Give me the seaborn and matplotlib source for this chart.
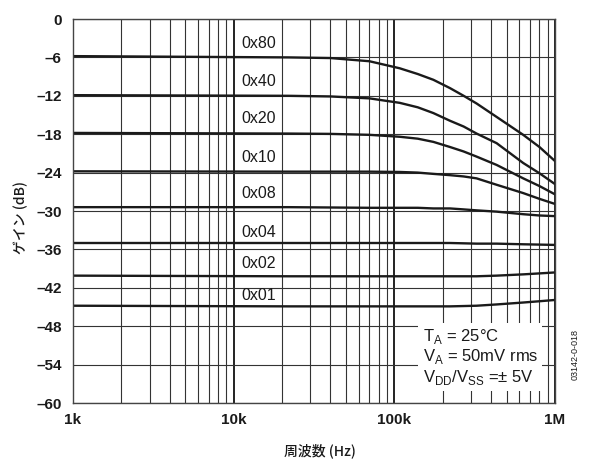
import matplotlib
matplotlib.use("Agg")
import matplotlib.pyplot as plt
import matplotlib.ticker as mticker
import numpy as np
import pandas as pd
import seaborn as sns

# Frequency points (Hz) shared by every gain-code curve
freq_hz = [1e3, 2.2e4, 4.0e4, 7.0e4, 1.08e5, 1.4e5, 1.75e5, 2.22e5,
           2.7e5, 3.25e5, 4.33e5, 6.34e5, 8.0e5, 1e6]

# Gain (dB) for each digital gain code
gain_0x80 = [-5.8, -6.0, -6.1, -6.6, -7.7, -8.6, -9.5, -10.8,
             -12.0, -13.2, -15.3, -18.1, -20.0, -22.2]
gain_0x40 = [-11.9, -12.0, -12.1, -12.4, -13.1, -13.8, -14.7, -15.9,
             -16.8, -17.9, -19.4, -22.5, -24.1, -25.8]
gain_0x20 = [-17.8, -17.9, -17.95, -18.1, -18.4, -18.7, -19.2, -20.0,
             -20.7, -21.5, -22.8, -24.9, -26.1, -27.4]
gain_0x10 = [-23.8, -23.85, -23.85, -23.85, -23.9, -24.0, -24.2, -24.4,
             -24.6, -24.9, -25.9, -27.2, -28.1, -28.9]
gain_0x08 = [-29.4, -29.4, -29.45, -29.5, -29.5, -29.5, -29.6, -29.6,
             -29.75, -29.9, -30.1, -30.5, -30.7, -30.8]
gain_0x04 = [-35.0, -35.0, -35.0, -35.0, -35.0, -35.0, -35.0, -35.0,
             -35.05, -35.1, -35.1, -35.2, -35.25, -35.3]
gain_0x02 = [-40.1, -40.2, -40.2, -40.2, -40.2, -40.2, -40.2, -40.2,
             -40.2, -40.2, -40.1, -39.9, -39.75, -39.6]
gain_0x01 = [-44.8, -44.9, -44.9, -44.9, -44.9, -44.9, -44.9, -44.9,
             -44.85, -44.8, -44.6, -44.3, -44.1, -43.9]

codes = ["0x80", "0x40", "0x20", "0x10", "0x08", "0x04", "0x02", "0x01"]
series = [gain_0x80, gain_0x40, gain_0x20, gain_0x10,
          gain_0x08, gain_0x04, gain_0x02, gain_0x01]
label_db = [-3.8, -9.8, -15.6, -21.6, -27.3, -33.3, -38.2, -43.2]

y_ticks = [0, -6, -12, -18, -24, -30, -36, -42, -48, -54, -60]
x_ticks = [1e3, 1e4, 1e5, 1e6]
x_ticklabels = ["1k", "10k", "100k", "1M"]

df = pd.concat(
    [pd.DataFrame({"freq": freq_hz, "gain": g, "code": c}) for c, g in zip(codes, series)],
    ignore_index=True,
)

sns.set_theme(style="white")
plt.rcParams["font.family"] = ["Liberation Sans", "Noto Sans CJK JP", "DejaVu Sans"]
plt.rcParams["mathtext.fontset"] = "custom"
plt.rcParams["mathtext.rm"] = "Liberation Sans"

fig = plt.figure(figsize=(5.9, 4.59), dpi=100)
ax = fig.add_axes([0.1237, 0.122, 0.817, 0.8366])

sns.lineplot(data=df, x="freq", y="gain", units="code", estimator=None,
             color="#1a1a1a", linewidth=1.7, ax=ax, legend=False)

ax.set_xscale("log")
ax.set_xlim(1e3, 1e6)
ax.set_ylim(-60, 0)
ax.set_xlabel("")
ax.set_ylabel("")

# Log grid: decades heavier than the in-between lines
ax.xaxis.set_major_locator(mticker.FixedLocator(x_ticks))
ax.xaxis.set_minor_locator(mticker.LogLocator(base=10, subs=np.arange(2, 10)))
ax.xaxis.set_minor_formatter(mticker.NullFormatter())
ax.set_xticklabels(x_ticklabels)
ax.set_yticks(y_ticks)
ax.set_yticklabels(["0" if v == 0 else f"\u2013{abs(v)}" for v in y_ticks])
ax.grid(True, which="major", axis="x", color="#222222", linewidth=1.4)
ax.grid(True, which="minor", axis="x", color="#333333", linewidth=0.8)
ax.grid(True, which="major", axis="y", color="#333333", linewidth=0.8)
ax.set_axisbelow(True)

ax.tick_params(axis="both", which="both", length=0)
ax.tick_params(axis="y", pad=8, labelsize=11)
ax.tick_params(axis="x", pad=7, labelsize=11)
for lbl in ax.get_xticklabels() + ax.get_yticklabels():
    lbl.set_fontweight("bold")
    lbl.set_color("#1a1a1a")

for sp in ax.spines.values():
    sp.set_color("#444444")
    sp.set_linewidth(1.0)

for code, ydb in zip(codes, label_db):
    ax.text(1.12e4, ydb, code, fontsize=11.5, color="#1a1a1a", va="center", ha="left")

ax.text(
    1.5e5, -52.8,
    "T$_\\mathregular{A}$ = 25°C\nV$_\\mathregular{A}$ = 50mV rms\n"
    "V$_\\mathregular{DD}$/V$_\\mathregular{SS}$ =± 5V",
    fontsize=12, color="#1a1a1a", va="center", ha="left", linespacing=1.1,
    bbox=dict(facecolor="white", edgecolor="none", pad=3),
)

cjk = ["Noto Sans CJK JP", "DejaVu Sans"]
fig.text(320 / 590, 1 - 451 / 459, "周波数 (Hz)", fontsize=10, family=cjk,
         fontweight="medium", color="#1a1a1a", ha="center", va="center")
fig.text(21 / 590, 1 - 218 / 459, "ゲイン (dB)", fontsize=10, family=cjk,
         fontweight="medium", color="#1a1a1a", ha="center", va="center", rotation=90)

fig.text(575 / 590, 1 - 355 / 459, "03142-0-018", rotation=90, fontsize=6.5,
         color="#1a1a1a", ha="center", va="center")

fig.savefig("out.png", dpi=100)
